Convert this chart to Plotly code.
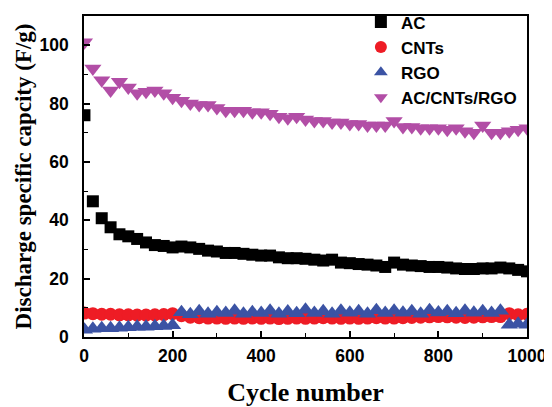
import plotly.graph_objects as go

cycles = [1] + list(range(20, 1001, 20))

ac = [76, 46.5, 40.7, 37.6, 35.2, 34.5, 33.6, 32.4, 31.5, 31.2, 30.7, 31, 30.7, 30.2, 29.6,
      29.3, 28.8, 28.8, 28.5, 28.2, 27.9, 27.9, 27.3, 27, 27, 26.8, 26.5, 26.2, 26.5, 25.5,
      25.3, 25, 24.8, 24.5, 24, 25.5, 24.8, 24.5, 24.3, 24, 24, 23.8, 23.5, 23.3, 23.3,
      23.5, 23.5, 23.8, 23.5, 23, 22.5]

cnts = [8.2, 8, 7.8, 7.8, 7.6, 7.6, 7.5, 7.5, 7.6, 7.7, 8, 7.3, 6.8, 6.6, 6.5,
        6.5, 6.4, 6.5, 6.4, 6.5, 6.4, 6.5, 6.3, 6.4, 6.5, 6.4, 6.5, 6.6, 6.5, 6.4,
        6.5, 6.4, 6.5, 6.6, 6.5, 6.5, 6.6, 6.7, 6.8, 6.9, 7, 6.9, 6.8, 6.7, 6.8,
        6.9, 7, 7, 8, 7.6, 7.8]

rgo = [2.5, 2.8, 3, 3, 3.2, 3.3, 3.5, 3.5, 3.7, 3.8, 4, 8.5, 7.8, 8.8, 8,
       8.5, 8.2, 9, 8, 8.5, 8.2, 9, 8, 8.7, 8.1, 9.3, 8.2, 8.8, 8, 9,
       8.3, 8.8, 8, 9.2, 8.2, 9, 8.3, 8.8, 8, 9.2, 8.4, 8.8, 8.1, 9, 8.3,
       8.8, 8.2, 9, 4.2, 4.5, 4.2]

hybrid = [101, 92, 88, 84.5, 87.5, 85.5, 83.5, 84, 84.5, 83.5, 82, 81, 80, 79.5, 79.5,
          78.5, 77.5, 77.5, 77.5, 77, 77, 76.5, 75.5, 75, 75.5, 74.5, 74, 74, 73.5, 73.5,
          73, 73, 72.5, 72.5, 72.5, 74, 72, 72, 71.5, 71.5, 71.5, 71, 71.5, 70.5, 70,
          72.5, 70, 70, 70.5, 71, 71.5]

fig = go.Figure()
fig.add_trace(go.Scatter(x=cycles, y=ac, mode="markers", name="AC",
                         marker=dict(symbol="square", size=12, color="#000000")))
fig.add_trace(go.Scatter(x=cycles, y=cnts, mode="markers", name="CNTs",
                         marker=dict(symbol="circle", size=13, color="#ee1c25")))
fig.add_trace(go.Scatter(x=cycles, y=rgo, mode="markers", name="RGO",
                         marker=dict(symbol="triangle-up", size=15, color="#3b53a4")))
fig.add_trace(go.Scatter(x=cycles, y=hybrid, mode="markers", name="AC/CNTs/RGO",
                         marker=dict(symbol="triangle-down", size=15, color="#b24ea6")))

tickfont = dict(family="Liberation Sans, Arial", size=17.5, color="black", weight="bold")
titlefont = dict(family="Liberation Serif, Times New Roman", size=26, color="black", weight="bold")

fig.update_layout(
    width=544, height=399,
    margin=dict(l=76, r=25, t=8, b=70, autoexpand=False),
    paper_bgcolor="white", plot_bgcolor="white",
    showlegend=True,
    legend=dict(x=0.625, y=1.036, xanchor="left", yanchor="top",
                bgcolor="rgba(0,0,0,0)", tracegroupgap=0, itemsizing="constant",
                font=dict(family="Liberation Sans, Arial", size=17, color="black", weight="bold")),
    xaxis=dict(range=[0, 1000], tickvals=[0, 200, 400, 600, 800, 1000], automargin=False,
               ticks="inside", ticklen=6, tickwidth=1.5, tickcolor="black",
               minor=dict(dtick=100, ticks="inside", ticklen=4, tickwidth=1.2, tickcolor="black"),
               showline=True, linecolor="black", linewidth=1.5, mirror=True,
               showgrid=False, zeroline=False, tickfont=tickfont, ticklabelstandoff=2,
               title=dict(text="Cycle number", font=titlefont, standoff=20)),
    yaxis=dict(range=[0, 110], tickvals=[0, 20, 40, 60, 80, 100], automargin=False,
               ticks="inside", ticklen=6, tickwidth=1.5, tickcolor="black",
               minor=dict(dtick=10, ticks="inside", ticklen=4, tickwidth=1.2, tickcolor="black"),
               showline=True, linecolor="black", linewidth=1.5, mirror=True,
               showgrid=False, zeroline=False, tickfont=tickfont, ticklabelstandoff=10,
               title=dict(text="Discharge specific capcity (F/g)", font=dict(family="Liberation Serif, Times New Roman", size=23, color="black", weight="bold"), standoff=1)),
)

fig.write_html("out.html")
